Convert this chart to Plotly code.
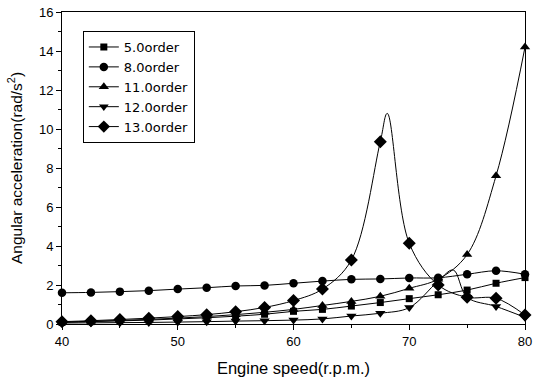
import plotly.graph_objects as go

speed = [40, 42.5, 45, 47.5, 50, 52.5, 55, 57.5, 60, 62.5, 65, 67.5, 70, 72.5, 75, 77.5, 80]

order5 = [0.08, 0.12, 0.16, 0.20, 0.26, 0.32, 0.40, 0.50, 0.65, 0.75, 0.92, 1.10, 1.30, 1.50, 1.74, 2.09, 2.38]
order8 = [1.60, 1.62, 1.66, 1.71, 1.79, 1.86, 1.95, 1.98, 2.09, 2.20, 2.29, 2.31, 2.36, 2.37, 2.55, 2.73, 2.55]
order11 = [0.10, 0.14, 0.18, 0.24, 0.30, 0.38, 0.48, 0.60, 0.75, 0.95, 1.16, 1.42, 1.83, 2.30, 3.56, 7.60, 14.2]
order12 = [0.05, 0.06, 0.07, 0.08, 0.10, 0.12, 0.15, 0.17, 0.20, 0.26, 0.41, 0.55, 0.84, 2.20, 1.37, 0.90, 0.34]
order13 = [0.12, 0.17, 0.23, 0.30, 0.38, 0.48, 0.63, 0.85, 1.20, 1.79, 3.28, 9.35, 4.14, 2.00, 1.37, 1.32, 0.46]

# extra points (between markers)
order12_extra_x = [73.8]
order12_extra_y = [2.77]
order13_extra_x = [68.1]
order13_extra_y = [10.8]

names = ["5.0order", "8.0order", "11.0order", "12.0order", "13.0order"]
symbols = ["square", "circle", "triangle-up", "triangle-down", "diamond"]
msizes = [7, 8.5, 9, 9, 10]

series = [
    (order5, [], []),
    (order8, [], []),
    (order11, [], []),
    (order12, order12_extra_x, order12_extra_y),
    (order13, order13_extra_x, order13_extra_y),
]

FONT = "Liberation Sans, Arial, sans-serif"
LEGFONT = "DejaVu Sans, sans-serif"
fig = go.Figure()
for (vals, ex, ey), name, sym, ms in zip(series, names, symbols, msizes):
    pts = [(x, y, ms) for x, y in zip(speed, vals)] + [(x, y, 0) for x, y in zip(ex, ey)]
    pts.sort(key=lambda p: p[0])
    fig.add_trace(go.Scatter(
        x=[p[0] for p in pts], y=[p[1] for p in pts],
        mode="lines+markers", name=name,
        line=dict(color="black", width=1, shape="spline", smoothing=1.0),
        marker=dict(symbol=sym, color="black", opacity=1, size=[p[2] for p in pts],
                    line=dict(width=0, color="black")),
        cliponaxis=False,
    ))

axis_common = dict(
    showgrid=False, zeroline=False, showline=True, linecolor="black", linewidth=1,
    mirror=True, ticks="outside", ticklen=5, tickwidth=1, tickcolor="black",
    tickfont=dict(family=FONT, size=13, color="black"), automargin=False,
)
fig.update_xaxes(range=[40, 80], dtick=10, tick0=40,
                 minor=dict(ticks="outside", dtick=5, ticklen=3, tickcolor="black"),
                 title=dict(text="Engine speed(r.p.m.)", font=dict(family=FONT, size=16.5, color="black"), standoff=14),
                 **axis_common)
fig.update_yaxes(range=[0, 16], dtick=2, tick0=0,
                 minor=dict(ticks="outside", dtick=1, ticklen=3, tickcolor="black"),
                 title=dict(text="Angular acceleration(rad/s<sup>2</sup>)", font=dict(family=FONT, size=15.5, color="black"), standoff=12),
                 **axis_common)

fig.update_layout(
    width=543, height=377,
    margin=dict(l=62, r=18, t=12, b=53),
    paper_bgcolor="white", plot_bgcolor="white",
    font=dict(family=FONT, color="black"),
    legend=dict(x=0.045, y=0.939, xanchor="left", yanchor="top",
                bgcolor="white", bordercolor="black", borderwidth=1,
                font=dict(family=LEGFONT, size=13, color="black"),
                itemwidth=30),
    showlegend=True,
)

fig.write_html("out.html")
